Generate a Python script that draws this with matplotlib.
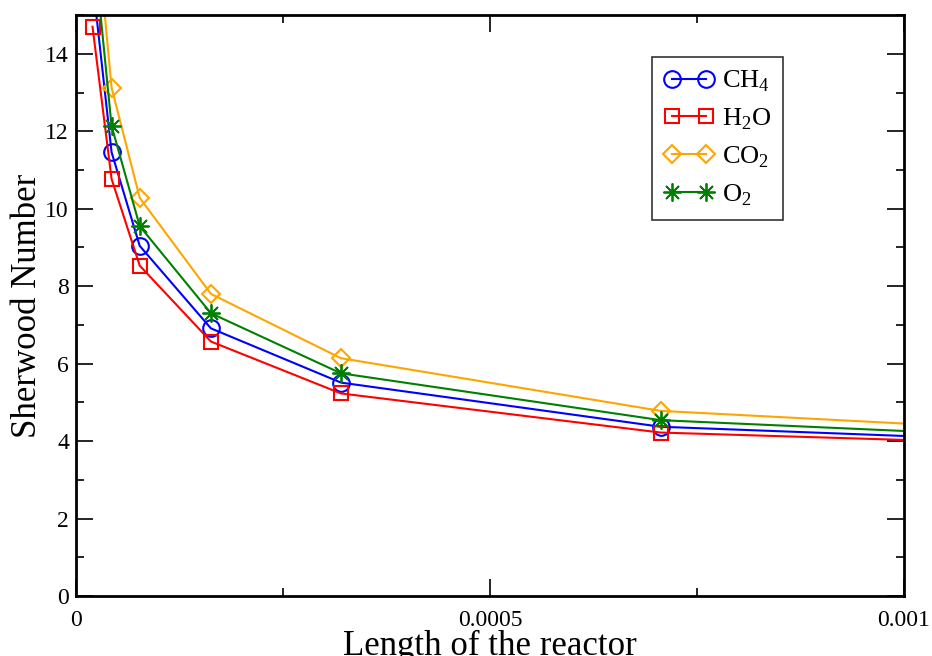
import matplotlib
matplotlib.use("Agg")
import matplotlib.pyplot as plt
from matplotlib.ticker import MultipleLocator

plt.rcParams['font.family'] = ['Liberation Serif', 'DejaVu Serif']
plt.rcParams['mathtext.fontset'] = 'custom'
plt.rcParams['mathtext.rm'] = 'Liberation Serif'

x = [0.00002, 0.000043, 0.000077, 0.000163, 0.00032, 0.000706, 0.0012]
ch4 = [15.9, 11.46, 9.04, 6.91, 5.51, 4.37, 3.97]
h2o = [14.70, 10.77, 8.53, 6.57, 5.23, 4.22, 3.90]
co2 = [18.4, 13.13, 10.28, 7.80, 6.14, 4.78, 4.23]
o2 = [17.1, 12.14, 9.55, 7.30, 5.75, 4.54, 4.07]

labels = [r'CH$_\mathregular{4}$', r'H$_\mathregular{2}$O', r'CO$_\mathregular{2}$', r'O$_\mathregular{2}$']

fig = plt.figure(figsize=(9.32, 6.56), dpi=100)
ax = fig.add_axes([0.0815, 0.0915, 0.970 - 0.0815, 0.977 - 0.0915])

lw = 1.5
ax.plot(x, ch4, color='blue', lw=lw, marker='o', ms=12, mfc='none', mec='blue', mew=1.5, label=labels[0])
ax.plot(x, h2o, color='red', lw=lw, marker='s', ms=10, mfc='none', mec='red', mew=1.5, label=labels[1])
ax.plot(x, co2, color='orange', lw=lw, marker='D', ms=9, mfc='none', mec='orange', mew=1.5, label=labels[2])
ax.plot(x, o2, color='green', lw=lw, marker=(8, 2, 0), ms=13, mfc='none', mec='green', mew=1.3, label=labels[3])

ax.set_xlim(0, 0.001)
ax.set_ylim(0, 15)
ax.xaxis.set_major_locator(MultipleLocator(0.0005))
ax.xaxis.set_minor_locator(MultipleLocator(0.00025))
ax.yaxis.set_major_locator(MultipleLocator(2))
ax.yaxis.set_minor_locator(MultipleLocator(1))
ax.set_xticks([0, 0.0005, 0.001])
ax.set_xticklabels(['0', '0.0005', '0.001'])
ax.tick_params(which='both', direction='in', top=True, right=True, labelsize=17, width=1.2)
ax.tick_params(which='major', length=12)
ax.tick_params(which='minor', length=6)
ax.tick_params(axis='x', which='major', pad=10)
ax.tick_params(axis='y', which='major', pad=5)
for s in ax.spines.values():
    s.set_linewidth(2)

ax.set_xlabel('Length of the reactor', fontsize=25, labelpad=-1)
ax.set_ylabel('Sherwood Number', fontsize=25, labelpad=1)

leg = ax.legend(loc='upper right', bbox_to_anchor=(0.854, 0.928), fontsize=19, numpoints=2,
                handlelength=1.9, fancybox=False, framealpha=1, edgecolor='#333333',
                borderpad=0.45, labelspacing=0.47, handletextpad=0.3, borderaxespad=0)
leg.get_frame().set_linewidth(1.2)

fig.savefig('out.png', dpi=100)
